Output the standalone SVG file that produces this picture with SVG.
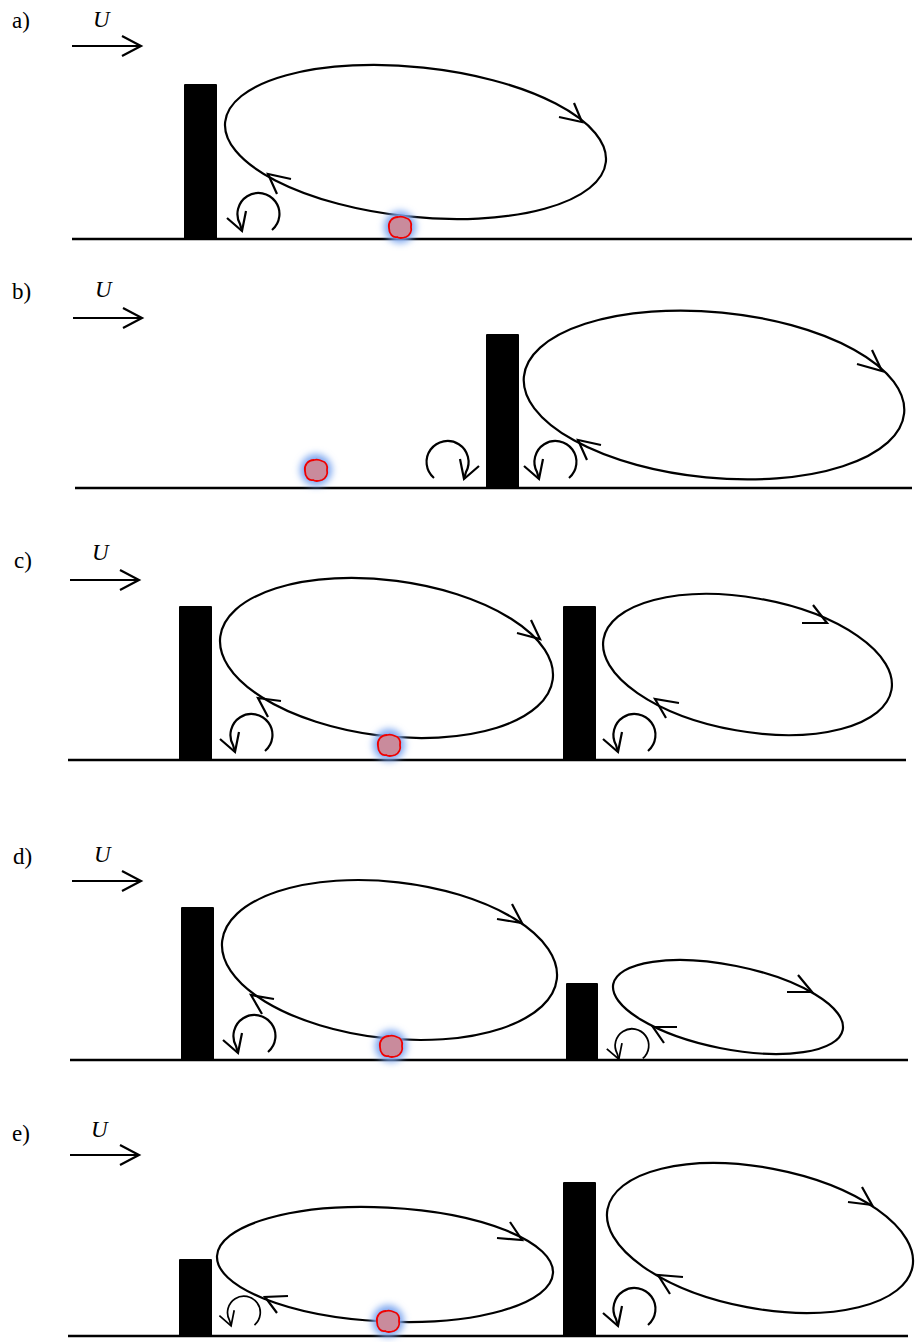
<svg xmlns="http://www.w3.org/2000/svg" width="916" height="1342" viewBox="0 0 916 1342">
  <style>
    .lbl { font-family: "Liberation Serif", "Times New Roman", serif; font-size: 23px; fill: #000; }
    .u { font-family: "Liberation Serif", "Times New Roman", serif; font-size: 23px; font-style: italic; fill: #000; }
    .ln { fill: none; stroke: #000; stroke-width: 2.2; stroke-linecap: butt; stroke-linejoin: miter; }
    .gnd { fill: none; stroke: #000; stroke-width: 2.6; }
    .blk { fill: #000; }
    .blob { fill: #c98b9c; stroke: #f00000; stroke-width: 1.8; }
    .halo { fill: #7fa8f0; opacity: 1; }
  </style>
  <defs>
    <filter id="glow" x="-1" y="-1" width="3" height="3">
      <feGaussianBlur stdDeviation="3.5"/>
    </filter>
    <!-- small corner eddy, arrow on the left side -->
    <g id="eddy">
      <path class="ln" d="M 16 18 A 21 21 0 1 0 -16 12 L -14 19"/>
      <polyline class="ln" points="-29,6 -14,19 -10,-1"/>
    </g>
    <!-- particle with bluish halo -->
    <g id="particle">
      <circle class="halo" r="16" filter="url(#glow)"/>
      <path class="blob" d="M -11 1 C -12 -5 -8 -10 -2 -10 C 1 -11 4 -10 6 -9 C 10 -8 12 -4 11 0 C 12 4 10 8 6 10 C 3 11 0 12 -3 10 C -7 11 -11 7 -11 1 Z"/>
    </g>
    <!-- free-stream arrow -->
    <g id="flow">
      <line class="ln" x1="0" y1="0" x2="69" y2="0"/>
      <polyline class="ln" points="50,-10 69,0 50,10"/>
    </g>
  </defs>

  <!-- panel a -->
  <g id="panel-a">
    <text class="lbl" x="12" y="28">a)</text>
    <text class="u" x="93" y="27">U</text>
    <use href="#flow" x="72" y="46"/>
    <line class="gnd" x1="72" y1="239" x2="912" y2="239"/>
    <rect id="block-a" class="blk" x="184" y="84" width="33" height="155" rx="1"/>
    <g id="vortex-a">
      <ellipse class="ln" cx="415.5" cy="142" rx="191.4" ry="74.8" transform="rotate(6 415.5 142)"/>
      <polyline class="ln" points="574,103 582,122 559,117"/>
      <polyline class="ln" points="291,179 268,174 277,194"/>
    </g>
    <use id="eddy-a" href="#eddy" x="256" y="212"/>
    <use id="particle-a" href="#particle" x="400" y="227"/>
  </g>

  <!-- panel b -->
  <g id="panel-b">
    <text class="lbl" x="12" y="299">b)</text>
    <text class="u" x="95" y="297">U</text>
    <use href="#flow" x="73" y="318"/>
    <line class="gnd" x1="75" y1="488" x2="912" y2="488"/>
    <rect id="block-b" class="blk" x="486" y="334" width="33" height="154" rx="1"/>
    <g id="vortex-b">
      <ellipse class="ln" cx="714" cy="395" rx="191" ry="82.8" transform="rotate(5.5 714 395)"/>
      <polyline class="ln" points="872,350 882,371 857,364"/>
      <polyline class="ln" points="601,445 578,440 587,460"/>
    </g>
    <use id="eddy-b1" href="#eddy" transform="translate(450 460) scale(-1 1)"/>
    <use id="eddy-b2" href="#eddy" x="553" y="460"/>
    <use id="particle-b" href="#particle" x="316" y="470"/>
  </g>

  <!-- panel c -->
  <g id="panel-c">
    <text class="lbl" x="14" y="568">c)</text>
    <text class="u" x="92" y="560">U</text>
    <use href="#flow" x="70" y="580"/>
    <line class="gnd" x1="68" y1="760" x2="906" y2="760"/>
    <rect id="block-c1" class="blk" x="179" y="606" width="33" height="154" rx="1"/>
    <rect id="block-c2" class="blk" x="563" y="606" width="33" height="154" rx="1"/>
    <g id="vortex-c1">
      <ellipse class="ln" cx="386.5" cy="658" rx="167.6" ry="77.7" transform="rotate(7.4 386.5 658)"/>
      <polyline class="ln" points="531,620 540,639 517,633"/>
      <polyline class="ln" points="281,701 258,698 268,717"/>
    </g>
    <g id="vortex-c2">
      <ellipse class="ln" cx="747.5" cy="664.5" rx="146.2" ry="66.8" transform="rotate(10 747.5 664.5)"/>
      <polyline class="ln" points="813,605 827,623 802,623"/>
      <polyline class="ln" points="679,703 655,699 666,718"/>
    </g>
    <use id="eddy-c1" href="#eddy" x="249" y="733"/>
    <use id="eddy-c2" href="#eddy" x="632" y="733"/>
    <use id="particle-c" href="#particle" x="389" y="745"/>
  </g>

  <!-- panel d -->
  <g id="panel-d">
    <text class="lbl" x="13" y="864">d)</text>
    <text class="u" x="94" y="862">U</text>
    <use href="#flow" x="72" y="881"/>
    <line class="gnd" x1="70" y1="1060" x2="908" y2="1060"/>
    <rect id="block-d1" class="blk" x="181" y="907" width="33" height="153" rx="1"/>
    <rect id="block-d2" class="blk" x="566" y="983" width="32" height="77" rx="1"/>
    <g id="vortex-d1">
      <ellipse class="ln" cx="389.5" cy="960" rx="168.4" ry="78.2" transform="rotate(6.5 389.5 960)"/>
      <polyline class="ln" points="512,904 522,923 497,919"/>
      <polyline class="ln" points="274,999 251,995 262,1014"/>
    </g>
    <g id="vortex-d2">
      <ellipse class="ln" cx="728" cy="1007" rx="117" ry="41.8" transform="rotate(11.3 728 1007)"/>
      <polyline class="ln" points="798,975 812,992 787,992"/>
      <polyline class="ln" points="677,1027 653,1027 664,1043"/>
    </g>
    <use id="eddy-d1" href="#eddy" x="252" y="1034"/>
    <use id="eddy-d2" href="#eddy" transform="translate(630 1044) scale(0.8)"/>
    <use id="particle-d" href="#particle" x="391" y="1046"/>
  </g>

  <!-- panel e -->
  <g id="panel-e">
    <text class="lbl" x="12" y="1141">e)</text>
    <text class="u" x="91" y="1137">U</text>
    <use href="#flow" x="70" y="1155"/>
    <line class="gnd" x1="68" y1="1336" x2="908" y2="1336"/>
    <rect id="block-e1" class="blk" x="179" y="1259" width="33" height="77" rx="1"/>
    <rect id="block-e2" class="blk" x="563" y="1182" width="33" height="154" rx="1"/>
    <g id="vortex-e1">
      <ellipse class="ln" cx="385" cy="1264.5" rx="168.2" ry="56.9" transform="rotate(2.9 385 1264.5)"/>
      <polyline class="ln" points="510,1222 522,1240 497,1238"/>
      <polyline class="ln" points="288,1296 265,1297 277,1313"/>
    </g>
    <g id="vortex-e2">
      <ellipse class="ln" cx="760" cy="1238" rx="155.2" ry="70.4" transform="rotate(10.7 760 1238)"/>
      <polyline class="ln" points="862,1187 872,1205 848,1202"/>
      <polyline class="ln" points="683,1277 658,1275 670,1294"/>
    </g>
    <use id="eddy-e1" href="#eddy" transform="translate(242 1311) scale(0.78)"/>
    <use id="eddy-e2" href="#eddy" x="632" y="1307"/>
    <use id="particle-e" href="#particle" x="388" y="1321"/>
  </g>
</svg>
